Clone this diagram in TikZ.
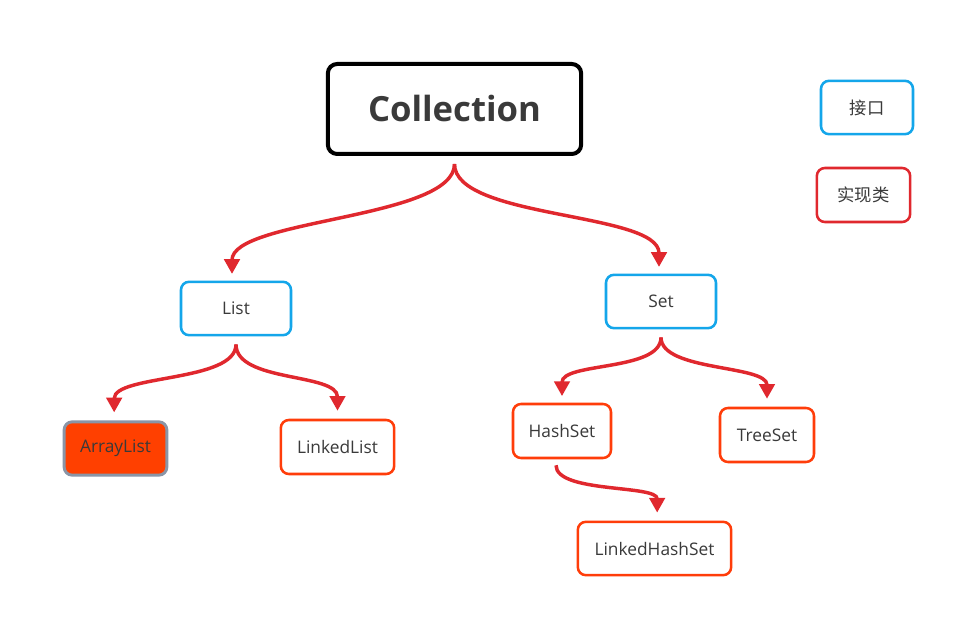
\documentclass[tikz,border=0pt]{standalone}
\usepackage{fontspec}
\setmainfont{Open Sans}
\newfontfamily\cjkfont{Noto Sans CJK SC}
\usetikzlibrary{arrows.meta}
\definecolor{txt}{HTML}{3A3A3A}
\definecolor{ifblue}{HTML}{14A6EA}
\definecolor{connred}{HTML}{E0282E}
\definecolor{implred}{HTML}{FF3D0A}
\definecolor{alfill}{HTML}{FF4000}
\definecolor{algrey}{HTML}{8A95A6}
\tikzset{
  box/.style={draw, rectangle, rounded corners=6pt, line width=1.9pt, inner sep=0pt,
    text=txt, font=\fontsize{13}{15}\selectfont, fill=white},
  ifbox/.style={box, draw=ifblue},
  implbox/.style={box, draw=implred},
  conn/.style={draw=connred, line width=2.6pt,
    -{Triangle[length=11pt,width=11.5pt]}},
}
\begin{document}
\begin{tikzpicture}[x=0.75pt,y=-0.75pt]
\useasboundingbox (0,0) rectangle (976,638);
\fill[white] (0,0) rectangle (976,638);
\node[box, draw=black, line width=3pt, rounded corners=7pt, minimum width=190pt, minimum height=67.5pt,
  font=\fontsize{26}{30}\selectfont\bfseries] (coll) at (454.5,109) {Collection};
\node[ifbox, minimum width=69pt, minimum height=40pt, font=\cjkfont\fontsize{13}{15}\selectfont] (legI) at (867,107.5) {接口};
\node[box, draw=connred, minimum width=70pt, minimum height=40.5pt, font=\cjkfont\fontsize{13}{15}\selectfont] (legC) at (863.5,195) {实现类};
\node[ifbox, minimum width=82.5pt, minimum height=40pt] (list) at (236,308.5) {List};
\node[ifbox, minimum width=82.5pt, minimum height=40pt] (set) at (661,301.5) {Set};
\node[box, draw=algrey, fill=alfill, line width=2.2pt, minimum width=77pt, minimum height=40pt] (al) at (115.5,448.5) {ArrayList};
\node[implbox, minimum width=85pt, minimum height=40.5pt] (ll) at (337.5,447) {LinkedList};
\node[implbox, minimum width=73.5pt, minimum height=40.5pt] (hs) at (562,431) {HashSet};
\node[implbox, minimum width=70.5pt, minimum height=40.5pt] (ts) at (767,435) {TreeSet};
\node[implbox, minimum width=115pt, minimum height=40pt] (lhs) at (654.5,548.5) {LinkedHashSet};
\draw[conn] ([yshift=-6pt]coll.south) .. controls +(0,55) and +(0,-55) .. ([xshift=-3pt,yshift=5pt]list.north);
\draw[conn] ([yshift=-6pt]coll.south) .. controls +(0,55) and +(0,-55) .. ([xshift=-1.5pt,yshift=5pt]set.north);
\draw[conn] ([yshift=-6pt]list.south) .. controls +(0,38) and +(0,-38) .. ([xshift=-1pt,yshift=6pt]al.north);
\draw[conn] ([yshift=-6pt]list.south) .. controls +(0,38) and +(0,-38) .. ([yshift=6pt]ll.north);
\draw[conn] ([yshift=-6pt]set.south) .. controls +(0,34) and +(0,-34) .. ([yshift=5pt]hs.north);
\draw[conn] ([yshift=-6pt]set.south) .. controls +(0,34) and +(0,-34) .. ([yshift=6pt]ts.north);
\draw[conn] ([xshift=-4.5pt,yshift=-4.5pt]hs.south) .. controls +(0,28) and +(0,-28) .. ([xshift=2pt,yshift=6pt]lhs.north);
\end{tikzpicture}
\end{document}
